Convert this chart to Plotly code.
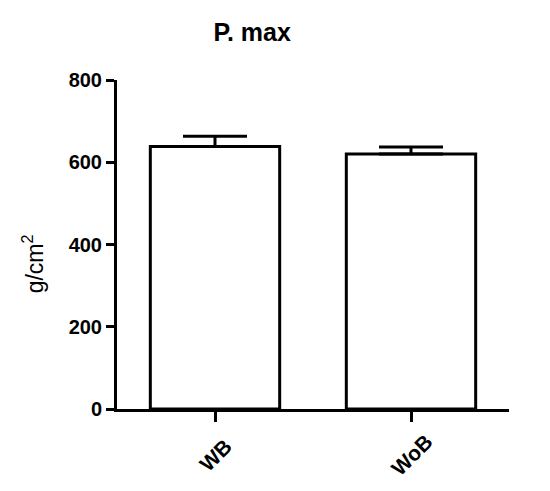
import plotly.graph_objects as go

groups = ['WB', 'WoB']
means = [638, 620]
sem = [25, 17]
yticks = [0, 200, 400, 600, 800]

fig = go.Figure()
fig.add_trace(go.Bar(
    x=groups, y=means, width=0.66,
    marker=dict(color='white', line=dict(color='black', width=3)),
    error_y=dict(type='data', symmetric=False, array=sem, arrayminus=[0, 0],
                 color='black', thickness=3, width=32),
))

fnt = "Liberation Sans, Arial, sans-serif"

# rotated category labels, centred under each tick
for g in groups:
    fig.add_annotation(x=g, xref='x', y=-0.14, yref='paper', text='<b>' + g + '</b>',
                       textangle=-45, showarrow=False, xanchor='center', yanchor='middle',
                       font=dict(family=fnt, size=21, color='black'))

# y axis title
fig.add_annotation(x=-0.214, xref='paper', y=0.44, yref='paper', text='g/cm<sup>2</sup>',
                   textangle=-90, showarrow=False, xanchor='center', yanchor='middle',
                   font=dict(family=fnt, size=23, color='black'))

fig.update_layout(
    width=550, height=491,
    margin=dict(l=109, r=49, t=72, b=90),
    plot_bgcolor='white', paper_bgcolor='white',
    showlegend=False,
    title=dict(text='<b>P. max</b>', x=0.444, xanchor='center', y=0.951, yanchor='middle',
               font=dict(family=fnt, size=25, color='black')),
    xaxis=dict(range=[-0.5, 1.5], showline=True, linecolor='black', linewidth=3,
               ticks='outside', ticklen=10, tickwidth=3, tickcolor='black',
               showticklabels=False, showgrid=False, zeroline=False),
    yaxis=dict(range=[0, 800], tickvals=yticks, showline=True, linecolor='black', linewidth=3,
               ticks='outside', ticklen=8, tickwidth=3, tickcolor='black',
               tickfont=dict(family=fnt, size=20, color='black', weight='bold'),
               showgrid=False, zeroline=False),
)

fig.write_html("out.html")
